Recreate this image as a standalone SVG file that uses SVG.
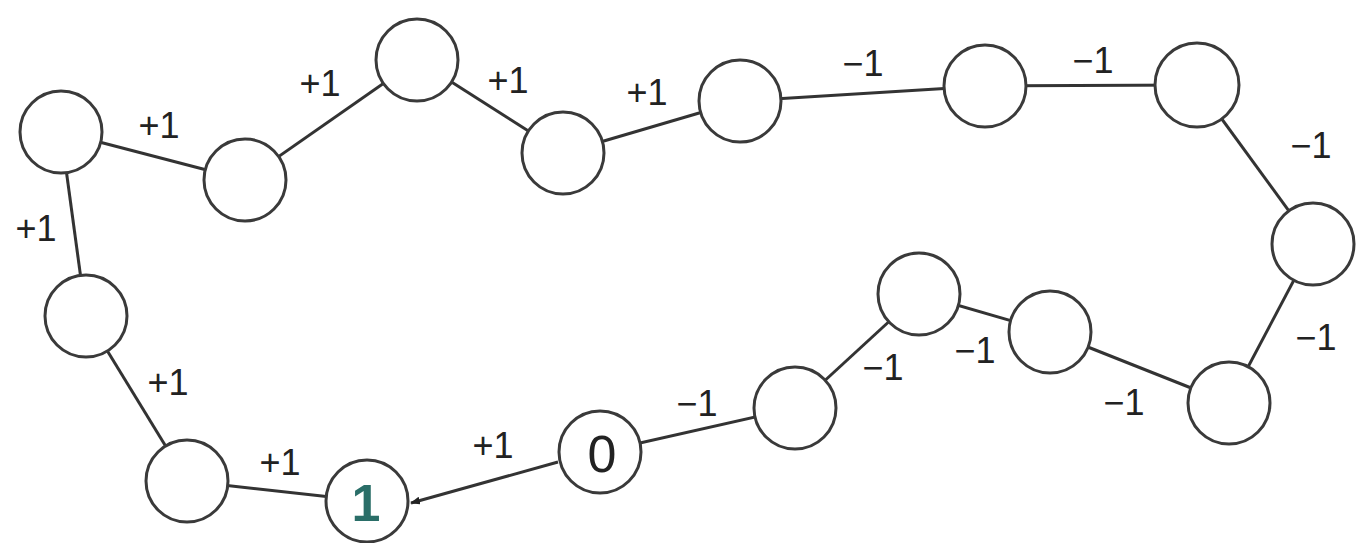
<svg xmlns="http://www.w3.org/2000/svg" width="1359" height="543" viewBox="0 0 1359 543">
<defs>
<style>
.n{fill:#fff;stroke:#3a3a3a;stroke-width:3}
.e{stroke:#333;stroke-width:3;fill:none}
.l{font-family:"Liberation Sans",Arial,sans-serif;font-size:36px;fill:#222;text-anchor:middle}
.v{font-family:"Liberation Sans",Arial,sans-serif;font-size:52px;fill:#222;text-anchor:middle}
</style>
<marker id="ah" markerWidth="10" markerHeight="8" refX="9" refY="4" orient="auto" markerUnits="userSpaceOnUse">
<path d="M0,0 L10,4 L0,8 Z" fill="#222"/>
</marker>
</defs>
<rect width="1359" height="543" fill="#fff"/>
<g id="connectors">
<line class="e" x1="61" y1="132" x2="245" y2="180"/>
<line class="e" x1="245" y1="180" x2="417" y2="60"/>
<line class="e" x1="417" y1="60" x2="563" y2="153"/>
<line class="e" x1="563" y1="153" x2="740" y2="101"/>
<line class="e" x1="740" y1="101" x2="985" y2="86"/>
<line class="e" x1="985" y1="86" x2="1197" y2="85"/>
<line class="e" x1="1197" y1="85" x2="1313" y2="244"/>
<line class="e" x1="1313" y1="244" x2="1229" y2="403"/>
<line class="e" x1="1229" y1="403" x2="1050" y2="332"/>
<line class="e" x1="1050" y1="332" x2="919" y2="294"/>
<line class="e" x1="919" y1="294" x2="795" y2="408"/>
<line class="e" x1="795" y1="408" x2="600" y2="452"/>
<line class="e" x1="61" y1="132" x2="86" y2="316"/>
<line class="e" x1="86" y1="316" x2="187" y2="481"/>
<line class="e" x1="187" y1="481" x2="367" y2="501"/>
<line class="e" x1="558" y1="462" x2="411" y2="503" stroke-width="2.5" marker-end="url(#ah)"/>
<text class="l" x="159" y="138">+1</text>
<text class="l" x="320" y="96">+1</text>
<text class="l" x="508" y="93">+1</text>
<text class="l" x="647" y="105">+1</text>
<text class="l" x="863" y="76">−1</text>
<text class="l" x="1093" y="73">−1</text>
<text class="l" x="1311" y="158">−1</text>
<text class="l" x="1316" y="350">−1</text>
<text class="l" x="1124" y="415">−1</text>
<text class="l" x="975" y="363">−1</text>
<text class="l" x="883" y="380">−1</text>
<text class="l" x="697" y="416">−1</text>
<text class="l" x="493" y="458">+1</text>
<text class="l" x="36" y="241">+1</text>
<text class="l" x="168" y="395">+1</text>
<text class="l" x="280" y="475">+1</text>
</g>
<g id="n1"><circle class="n" cx="61" cy="132" r="41"/></g>
<g id="n2"><circle class="n" cx="245" cy="180" r="41"/></g>
<g id="n3"><circle class="n" cx="417" cy="60" r="41"/></g>
<g id="n4"><circle class="n" cx="563" cy="153" r="41"/></g>
<g id="n5"><circle class="n" cx="740" cy="101" r="41"/></g>
<g id="n6"><circle class="n" cx="985" cy="86" r="41"/></g>
<g id="n7"><circle class="n" cx="1197" cy="85" r="42"/></g>
<g id="n8"><circle class="n" cx="1313" cy="244" r="41"/></g>
<g id="n9"><circle class="n" cx="1229" cy="403" r="41"/></g>
<g id="n10"><circle class="n" cx="1050" cy="332" r="41"/></g>
<g id="n11"><circle class="n" cx="919" cy="294" r="41"/></g>
<g id="n12"><circle class="n" cx="795" cy="408" r="41"/></g>
<g id="n0"><circle class="n" cx="600" cy="452" r="41"/><text class="v" x="602" y="472">0</text></g>
<g id="nstart"><circle class="n" cx="367" cy="501" r="41"/><text class="v" x="366" y="521" style="fill:#2a6e68;font-weight:bold">1</text></g>
<g id="n13"><circle class="n" cx="187" cy="481" r="41"/></g>
<g id="n14"><circle class="n" cx="86" cy="316" r="41"/></g>
</svg>
